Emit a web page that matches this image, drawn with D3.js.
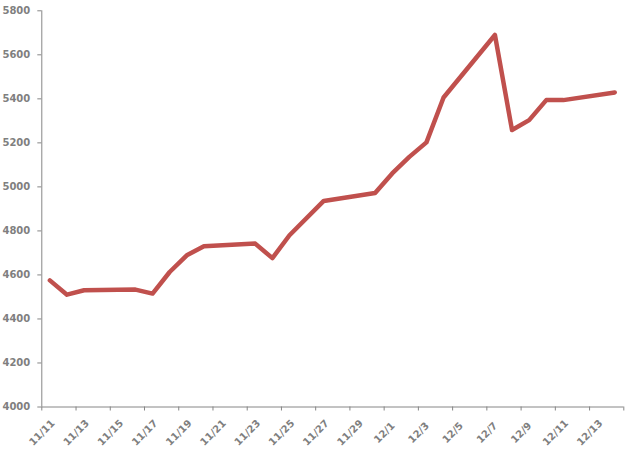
<!DOCTYPE html>
<html>
<head>
<meta charset="utf-8">
<script src="https://cdn.jsdelivr.net/npm/d3@7"></script>
<style>
  body { margin: 0; background: #fff; }
  svg { display: block; }
</style>
</head>
<body>
<svg id="chart" width="630" height="453"></svg>
<script>
// trading days only (weekends / holiday are skipped, axis is by date)
let dates = ["2009-11-11", "2009-11-12", "2009-11-13", "2009-11-16", "2009-11-17",
    "2009-11-18", "2009-11-19", "2009-11-20", "2009-11-23", "2009-11-24",
    "2009-11-25", "2009-11-27", "2009-11-30", "2009-12-01", "2009-12-02",
    "2009-12-03", "2009-12-04", "2009-12-07", "2009-12-08", "2009-12-09",
    "2009-12-10", "2009-12-11", "2009-12-14"];
let values = [4573, 4508, 4528, 4531, 4513,
    4611, 4687, 4728, 4740, 4674,
    4778, 4934, 4970, 5059, 5134,
    5200, 5404, 5688, 5256, 5301,
    5392, 5392, 5427];
let yTicks = [4000, 4200, 4400, 4600, 4800, 5000, 5200, 5400, 5600, 5800];
let axisStart = "2009-11-11";
let axisEnd = "2009-12-15";

let plotLeft = 41.3, plotRight = 623.3, plotTop = 10.3, plotBottom = 406.5;

let parse = d3.utcParse("%Y-%m-%d");
let svg = d3.select('#chart');

let x = d3.scaleUtc()
    .domain([parse(axisStart), parse(axisEnd)])
    .range([plotLeft, plotRight]);

let y = d3.scaleLinear()
    .domain([4000, 5800])
    .range([plotBottom, plotTop]);

// points sit in the middle of each day
let points = dates.map((d, i) => ({ date: d3.utcHour.offset(parse(d), 12), value: values[i] }));

let axisColor = '#868686';
let textColor = '#7f7f7f';

// y axis
let yAxis = svg.append('g')
    .attr('transform', 'translate(' + plotLeft + ',0)')
    .call(d3.axisLeft(y).tickValues(yTicks).tickSize(4).tickPadding(7).tickFormat(d3.format('d')));

// x axis, a tick every 2 days
let xTickValues = d3.utcDay.every(2).range(parse(axisStart), d3.utcDay.offset(parse(axisEnd), 1));
let xAxis = svg.append('g')
    .attr('transform', 'translate(0,' + plotBottom + ')')
    .call(d3.axisBottom(x).tickValues(xTickValues).tickSize(4).tickFormat(d3.utcFormat('%-m/%-d')));

[yAxis, xAxis].forEach(a => {
    a.select('.domain').attr('stroke', axisColor);
    a.selectAll('.tick line').attr('stroke', axisColor);
    a.selectAll('.tick text')
        .attr('fill', textColor)
        .attr('font-family', 'DejaVu Sans, sans-serif')
        .attr('font-weight', 'bold')
        .attr('font-size', '10px');
});
yAxis.select('.domain').attr('d', 'M0.5,' + plotTop + 'V' + plotBottom);
xAxis.select('.domain').attr('d', 'M' + plotLeft + ',0.5H' + plotRight);

// rotated labels, centred under their tick; no label on the axis end
xAxis.selectAll('.tick text')
    .attr('y', null)
    .attr('dy', null)
    .attr('text-anchor', 'middle')
    .attr('transform', 'translate(2.5,28.5) rotate(-45)')
    .filter((d, i, n) => i == n.length - 1)
    .remove();

// the line
let line = d3.line()
    .x(d => x(d.date))
    .y(d => y(d.value));

svg.append('path')
    .datum(points)
    .attr('d', line)
    .attr('fill', 'none')
    .attr('stroke', '#C0504D')
    .attr('stroke-width', 4.5)
    .attr('stroke-linejoin', 'round')
    .attr('stroke-linecap', 'round');
</script>
</body>
</html>
